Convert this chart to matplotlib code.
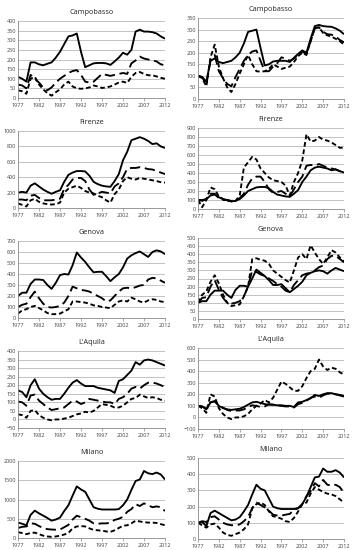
import numpy as np
import matplotlib.pyplot as plt

years = np.arange(1977, 2013)
xticks = [1977, 1982, 1987, 1992, 1997, 2002, 2007, 2012]

# ---- left column (levels) ----
cb_l_solid = [110, 100, 85, 185, 185, 175, 170, 178, 185, 210, 240, 280, 320, 325, 335, 240, 160, 170, 180, 182, 182, 180, 172, 190, 210, 235, 225, 250, 345, 355, 345, 345, 342, 335, 320, 308]
cb_l_long = [70, 65, 50, 120, 100, 80, 55, 40, 55, 80, 100, 115, 130, 140, 145, 120, 85, 80, 85, 105, 125, 120, 115, 120, 125, 130, 125, 180, 195, 215, 205, 200, 195, 190, 175, 170]
cb_l_short = [40, 35, 22, 100, 110, 70, 45, 25, 12, 30, 45, 70, 85, 60, 50, 48, 50, 55, 65, 60, 52, 55, 60, 70, 80, 85, 78, 110, 130, 135, 125, 118, 118, 112, 105, 100]

fi_l_solid = [200, 210, 200, 290, 320, 280, 240, 210, 185, 210, 230, 340, 430, 460, 480, 480, 475, 420, 340, 310, 290, 280, 275, 350, 440, 620, 730, 880, 900, 920, 900, 870, 830, 840, 800, 780]
fi_l_long = [110, 110, 100, 160, 170, 130, 100, 100, 100, 110, 120, 250, 300, 370, 390, 390, 350, 240, 170, 190, 210, 200, 190, 280, 320, 400, 510, 520, 520, 530, 520, 505, 500, 480, 460, 440]
fi_l_short = [60, 40, 20, 100, 120, 80, 60, 50, 45, 50, 70, 200, 250, 270, 290, 260, 220, 200, 190, 160, 140, 100, 70, 180, 240, 350, 400, 380, 370, 390, 380, 370, 360, 350, 335, 330]

ge_l_solid = [200, 230, 230, 310, 350, 350, 345, 300, 265, 320, 390, 400, 395, 480, 595, 550, 510, 460, 415, 420, 420, 380, 335, 370, 400, 460, 540, 570, 590, 605, 580, 555, 600, 615, 605, 580]
ge_l_long = [100, 120, 130, 190, 240, 180, 130, 100, 95, 100, 110, 140, 200, 285, 270, 255, 250, 240, 220, 200, 180, 150, 160, 200, 240, 270, 275, 270, 280, 295, 300, 350, 365, 360, 340, 320]
ge_l_short = [40, 70, 80, 100, 110, 90, 70, 45, 35, 35, 40, 60, 80, 150, 150, 145, 140, 130, 115, 110, 100, 95, 90, 120, 150, 160, 150, 185, 170, 150, 140, 160, 170, 165, 150, 145]

aq_l_solid = [170, 160, 130, 200, 235, 180, 150, 130, 115, 120, 120, 150, 185, 215, 230, 210, 195, 195, 195, 185, 180, 175, 170, 155, 225, 235, 260, 285, 335, 320, 345, 350, 345, 335, 325, 315]
aq_l_long = [105, 100, 80, 140, 145, 110, 90, 70, 55, 60, 65, 70, 90, 110, 105, 90, 100, 120, 115, 110, 105, 100, 100, 90, 120, 130, 150, 180, 190, 180, 200, 215, 215, 210, 200, 190]
aq_l_short = [30, 25, 10, 50, 55, 25, 10, 0, -5, 0, 0, 5, 10, 20, 30, 35, 45, 40, 50, 70, 90, 85, 80, 70, 70, 80, 100, 120, 125, 145, 135, 125, 130, 125, 115, 110]

mi_l_solid = [400, 370, 330, 600, 710, 640, 580, 520, 450, 480, 530, 700, 850, 1100, 1340, 1260, 1200, 1000, 800, 760, 740, 740, 740, 740, 750, 850, 1000, 1250, 1480, 1520, 1740, 1680, 1660, 1700, 1650, 1520]
mi_l_long = [260, 290, 300, 380, 370, 310, 260, 230, 220, 215, 220, 280, 340, 480, 580, 540, 500, 450, 380, 370, 380, 380, 400, 470, 500, 550, 680, 750, 880, 830, 900, 850, 800, 820, 800, 700]
mi_l_short = [150, 130, 100, 130, 140, 100, 60, 40, 30, 40, 60, 90, 130, 250, 300, 310, 300, 250, 210, 200, 190, 170, 160, 200, 260, 320, 330, 380, 450, 430, 410, 400, 400, 390, 360, 330]

# ---- right column (index, 1977 = 100) ----
cb_r_solid = [100, 95, 75, 165, 175, 160, 155, 160, 165, 180, 200, 240, 290, 295, 300, 220, 145, 150, 162, 165, 165, 165, 160, 178, 195, 210, 200, 260, 315, 320, 315, 313, 312, 305, 295, 280]
cb_r_long = [100, 95, 60, 170, 190, 120, 90, 65, 55, 95, 130, 165, 190, 205, 210, 165, 120, 120, 140, 155, 180, 175, 165, 175, 190, 205, 195, 250, 305, 310, 290, 280, 278, 270, 255, 245]
cb_r_short = [100, 90, 55, 180, 235, 140, 90, 50, 30, 65, 110, 150, 190, 150, 120, 118, 120, 130, 150, 140, 130, 135, 140, 160, 185, 200, 190, 250, 305, 310, 285, 275, 270, 260, 250, 235]

fi_r_solid = [100, 100, 110, 150, 160, 130, 110, 100, 85, 90, 110, 150, 200, 220, 240, 245, 245, 230, 190, 160, 150, 140, 135, 170, 210, 300, 360, 430, 460, 470, 460, 450, 430, 440, 420, 405]
fi_r_long = [100, 90, 110, 170, 170, 120, 100, 100, 90, 100, 120, 170, 270, 340, 360, 360, 300, 220, 180, 190, 200, 170, 140, 220, 300, 360, 480, 490, 480, 500, 480, 460, 450, 440, 420, 405]
fi_r_short = [100, 20, 100, 240, 220, 140, 110, 90, 85, 90, 150, 460, 520, 580, 550, 450, 400, 350, 320, 310, 300, 260, 150, 300, 400, 540, 830, 750, 760, 800, 770, 760, 740, 710, 680, 680]

ge_r_solid = [100, 110, 110, 150, 175, 175, 175, 150, 130, 180, 205, 205, 200, 250, 305, 285, 265, 240, 210, 210, 215, 190, 165, 185, 205, 230, 270, 285, 295, 300, 295, 280, 300, 315, 305, 295]
ge_r_long = [100, 130, 135, 200, 240, 180, 130, 100, 95, 100, 110, 140, 200, 300, 290, 275, 265, 250, 235, 215, 200, 175, 165, 210, 240, 270, 280, 285, 300, 320, 330, 370, 390, 390, 370, 350]
ge_r_short = [100, 150, 170, 230, 270, 220, 150, 100, 80, 85, 90, 140, 200, 370, 375, 365, 360, 340, 300, 280, 260, 240, 225, 300, 380, 400, 370, 455, 410, 370, 340, 380, 425, 410, 380, 355]

aq_r_solid = [100, 95, 70, 130, 140, 100, 80, 70, 65, 70, 75, 90, 110, 130, 135, 125, 115, 110, 110, 105, 105, 100, 100, 90, 130, 135, 150, 165, 195, 185, 200, 210, 210, 200, 195, 185]
aq_r_long = [100, 95, 75, 130, 140, 105, 85, 65, 55, 60, 60, 70, 90, 105, 100, 90, 95, 115, 110, 105, 100, 95, 95, 85, 115, 125, 145, 170, 180, 170, 190, 205, 205, 200, 190, 180]
aq_r_short = [100, 80, 40, 200, 180, 80, 30, 0, -15, 0, 0, 10, 30, 70, 100, 120, 150, 130, 170, 240, 310, 290, 260, 230, 230, 270, 340, 400, 420, 500, 440, 410, 430, 420, 390, 370]

mi_r_solid = [100, 105, 80, 160, 175, 160, 145, 130, 115, 120, 135, 170, 210, 275, 335, 310, 300, 250, 200, 190, 185, 185, 185, 185, 190, 215, 260, 320, 380, 385, 435, 415, 415, 425, 410, 380]
mi_r_long = [100, 110, 105, 135, 140, 120, 100, 90, 85, 85, 90, 110, 135, 190, 225, 210, 195, 175, 150, 145, 145, 150, 155, 180, 190, 215, 265, 295, 345, 325, 365, 335, 330, 335, 320, 285]
mi_r_short = [100, 85, 70, 90, 95, 70, 40, 25, 20, 30, 40, 60, 90, 190, 215, 225, 210, 170, 140, 135, 125, 110, 105, 130, 170, 215, 225, 280, 320, 305, 290, 280, 275, 265, 245, 225]

titles = ['Campobasso', 'Firenze', 'Genova', "L'Aquila", 'Milano']
left_data = [(cb_l_solid, cb_l_long, cb_l_short), (fi_l_solid, fi_l_long, fi_l_short),
             (ge_l_solid, ge_l_long, ge_l_short), (aq_l_solid, aq_l_long, aq_l_short),
             (mi_l_solid, mi_l_long, mi_l_short)]
right_data = [(cb_r_solid, cb_r_long, cb_r_short), (fi_r_solid, fi_r_long, fi_r_short),
              (ge_r_solid, ge_r_long, ge_r_short), (aq_r_solid, aq_r_long, aq_r_short),
              (mi_r_solid, mi_r_long, mi_r_short)]
left_ylim = [(0, 400, 50), (0, 1000, 200), (0, 700, 100), (-50, 400, 50), (0, 2000, 500)]
right_ylim = [(0, 350, 50), (0, 900, 100), (0, 500, 50), (-100, 600, 100), (0, 500, 100)]

W, H = 354, 550
fig = plt.figure(figsize=(W / 100, H / 100), dpi=100)
plt.rcParams['font.family'] = ['Open Sans', 'DejaVu Sans']


def draw(ax, series, ylim, title):
    solid, long_d, short_d = series
    ax.plot(years, solid, color='black', lw=1.35, solid_capstyle='butt')
    ax.plot(years, long_d, color='black', lw=1.35, dashes=(5.5, 2.5))
    ax.plot(years, short_d, color='black', lw=1.35, dashes=(2.5, 1.5))
    lo, hi, step = ylim
    ax.set_ylim(lo, hi)
    ax.set_yticks(np.arange(lo, hi + 1, step))
    ax.set_xlim(1977, 2012)
    ax.set_xticks(xticks)
    ax.grid(axis='y', color='#b8b8b8', lw=0.6)
    ax.set_axisbelow(True)
    for s in ['top', 'right']:
        ax.spines[s].set_visible(False)
    for s in ['left', 'bottom']:
        ax.spines[s].set_color('#888888')
        ax.spines[s].set_linewidth(0.6)
    ax.tick_params(axis='both', labelsize=4.0, length=2, width=0.5, color='#888888', pad=1.5, labelcolor='#444444')
    ax.tick_params(axis='y', length=0)
    ax.set_title(title, fontsize=5.2, pad=5, color='#222222')


for r in range(5):
    off = 110 * r
    # left
    top, bot = off + 21, off + 98
    ax = fig.add_axes([18 / W, 1 - bot / H, (165 - 18) / W, (bot - top) / H])
    draw(ax, left_data[r], left_ylim[r], titles[r])
    # right
    top, bot = off + 18, off + 99
    ax = fig.add_axes([198 / W, 1 - bot / H, (344 - 198) / W, (bot - top) / H])
    draw(ax, right_data[r], right_ylim[r], titles[r])

fig.savefig('out.png', dpi=100)
